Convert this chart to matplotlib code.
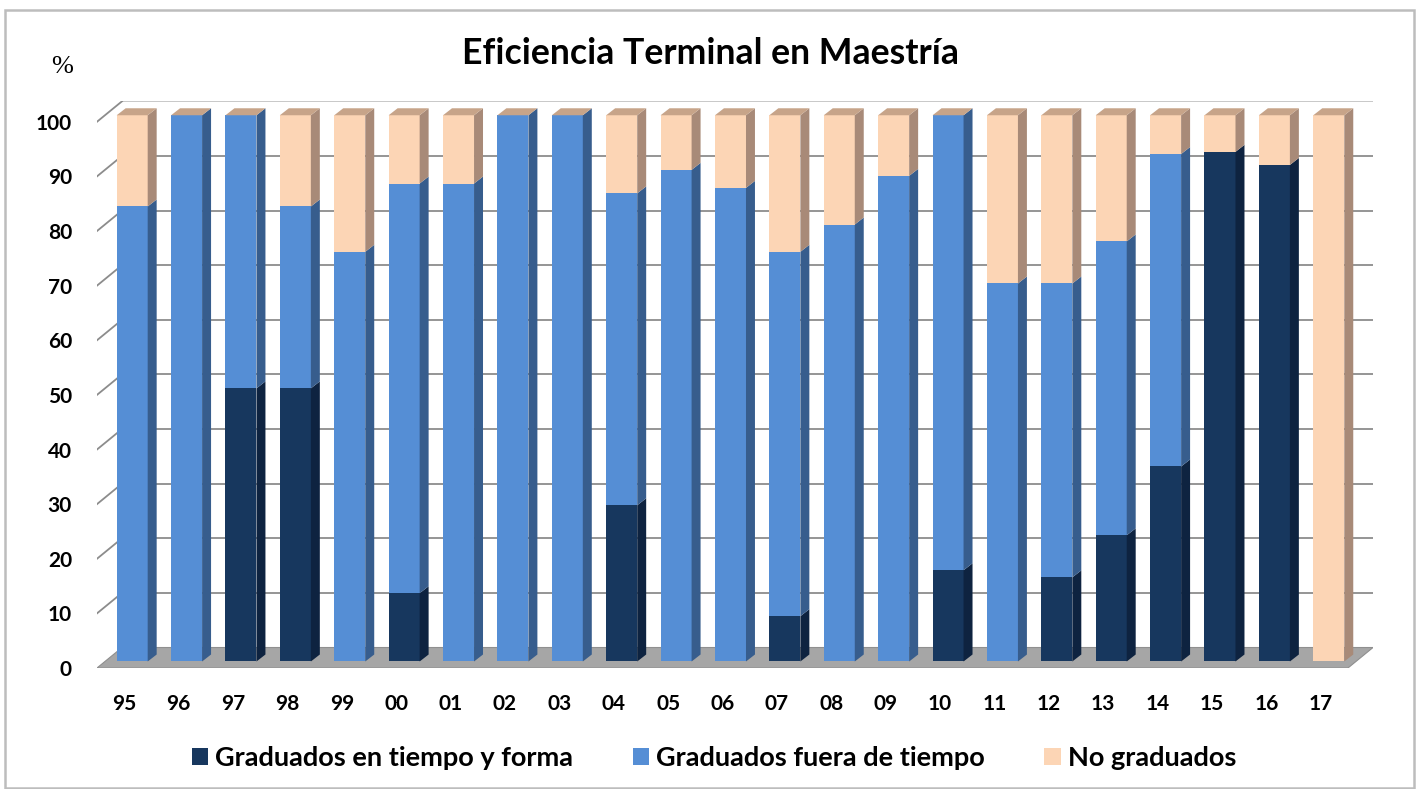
import matplotlib.pyplot as plt
from matplotlib.patches import Polygon, Patch, Rectangle
import numpy as np

plt.rcParams['font.family'] = ['Lato', 'DejaVu Sans']

# datos (%) por generacion
anios = ['95', '96', '97', '98', '99', '00', '01', '02', '03', '04', '05', '06',
         '07', '08', '09', '10', '11', '12', '13', '14', '15', '16', '17']
tiempo = [0, 0, 50, 50, 0, 12.5, 0, 0, 0, 28.6, 0, 0,
          8.3, 0, 0, 16.7, 0, 15.4, 23.1, 35.7, 93.3, 90.9, 0]
fuera = [83.3, 100, 50, 33.3, 75, 75, 87.5, 100, 100, 57.1, 90, 86.7,
         66.7, 80, 88.9, 83.3, 69.2, 53.8, 53.8, 57.2, 0, 0, 0]
no_grad = [16.7, 0, 0, 16.7, 25, 12.5, 12.5, 0, 0, 14.3, 10, 13.3,
           25, 20, 11.1, 0, 30.8, 30.8, 23.1, 7.1, 6.7, 9.1, 100]

series = [('Graduados en tiempo y forma', tiempo, '#17375e', '#0e2340'),
          ('Graduados fuera de tiempo', fuera, '#558ed5', '#375d8d'),
          ('No graduados', no_grad, '#fcd5b5', '#a88a78')]
top_color = '#c7a489'

fig = plt.figure(figsize=(14.23, 7.89), dpi=100)
ax = fig.add_axes([97 / 1423, 121 / 789, 1276 / 1423, 567 / 789])
ax.set_xlim(-0.5, 22.96)
ax.set_ylim(0, 103.8)

# pseudo 3D offsets (data units)
DX, DY = 0.46, 3.75          # full depth of the box
BX, BY = 0.147, 1.19         # bar front offset
SX, SY = 0.165, 1.28         # bar depth
w = 0.57

x = np.arange(len(anios))

# floor
ax.add_patch(Polygon([(-0.5, 0), (22.5, 0), (22.5 + DX, DY), (-0.5 + DX, DY)],
                     closed=True, facecolor='#a6a6a6', edgecolor='#8f8f8f',
                     lw=0.8, zorder=1))
# back wall + side wall grid
for v in range(10, 101, 10):
    c = '#c4c4c4' if v == 100 else '#8c8c8c'
    ax.plot([-0.5 + DX, 22.5 + DX], [v + DY, v + DY], color=c, lw=1.3, zorder=0.5)
    ax.plot([-0.5, -0.5 + DX], [v, v + DY], color='#8c8c8c', lw=1.3, zorder=0.5)

bottom = np.zeros(len(anios))
for name, vals, fc, sc in series:
    vals = np.array(vals, dtype=float)
    ax.bar(x + BX, vals, width=w, bottom=bottom + BY, color=fc, zorder=3,
           linewidth=0)
    for i in range(len(x)):
        if vals[i] <= 0:
            continue
        xr = x[i] + BX + w / 2
        b = bottom[i] + BY
        t = b + vals[i]
        ax.add_patch(Polygon([(xr, b), (xr + SX, b + SY), (xr + SX, t + SY), (xr, t)],
                             closed=True, facecolor=sc, edgecolor='none', zorder=3))
    bottom = bottom + vals

# top faces
for i in range(len(x)):
    xl = x[i] + BX - w / 2
    xr = x[i] + BX + w / 2
    t = bottom[i] + BY
    ax.add_patch(Polygon([(xl, t), (xr, t), (xr + SX, t + SY), (xl + SX, t + SY)],
                         closed=True, facecolor=top_color, edgecolor='none', zorder=3))

ax.set_xticks(x)
ax.set_xticklabels(anios, fontsize=15, fontweight='bold')
ax.set_yticks(range(0, 101, 10))
ax.set_yticklabels([str(v) for v in range(0, 101, 10)], fontsize=15, fontweight='bold')
ax.tick_params(length=0)
ax.tick_params(axis='y', pad=18)
ax.tick_params(axis='x', pad=19)
for s in ax.spines.values():
    s.set_visible(False)

fig.text(710 / 1423, 1 - 53 / 789, 'Eficiencia Terminal en Maestría', ha='center',
         va='center', fontsize=25.7, fontweight='bold')
fig.text(62 / 1423, 1 - 67 / 789, '%', ha='center', va='center', fontsize=19,
         family='Liberation Serif')

handles = [Patch(facecolor=fc, edgecolor='none', label=name) for name, _, fc, _ in series]
fig.legend(handles=handles, loc='center', bbox_to_anchor=(714 / 1423, 1 - 758 / 789),
           ncol=3, frameon=False, handlelength=0.6, handleheight=0.6,
           handletextpad=0.26, columnspacing=2.2,
           prop={'size': 19.5, 'weight': 'bold', 'family': 'Lato'})

# outer frame
fig.add_artist(Rectangle((5 / 1423, 1 / 789), 1409 / 1423, 778 / 789,
                         transform=fig.transFigure, fill=False,
                         edgecolor='#bdbdbd', lw=1.8))

fig.savefig('out.png', dpi=100)
